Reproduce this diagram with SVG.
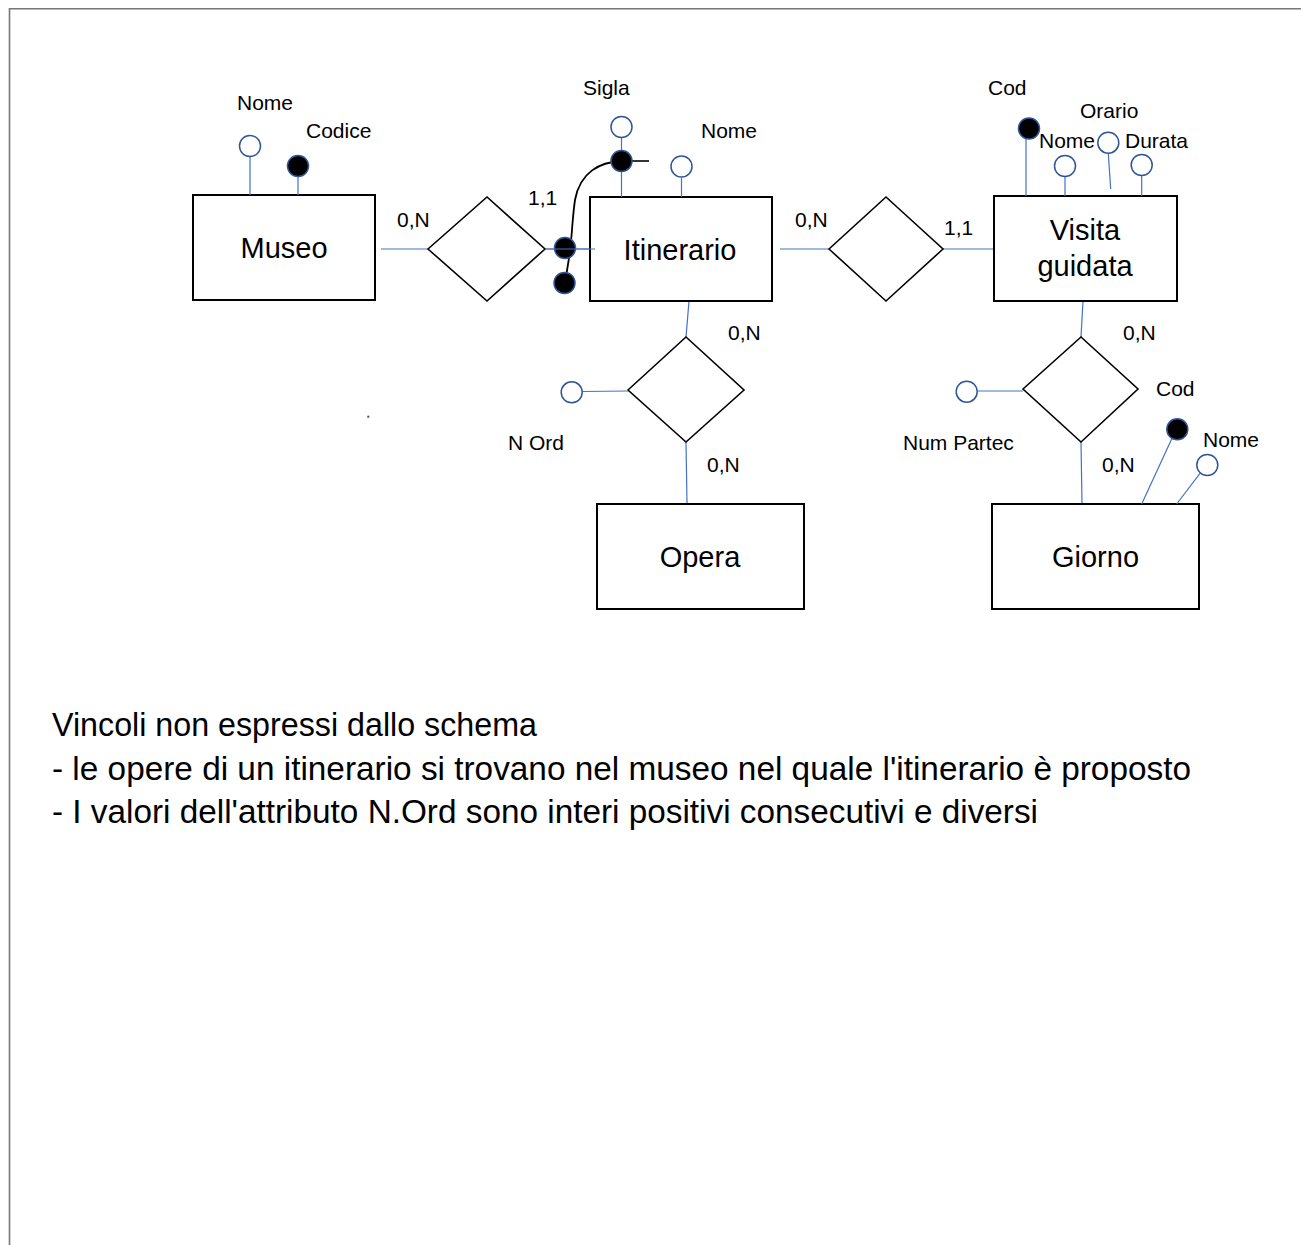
<svg xmlns="http://www.w3.org/2000/svg" width="1301" height="1245" viewBox="0 0 1301 1245">
<style>
.ent{fill:#fff;stroke:#000;stroke-width:2}
.rel{fill:#fff;stroke:#000;stroke-width:1.6}
.conn{stroke:#4472C4;stroke-width:1.2;fill:none}
.att{fill:#fff;stroke:#2F5597;stroke-width:1.5}
.key{fill:#000;stroke:#2F5597;stroke-width:1.5}
.lbl{font-family:"Liberation Sans",Arial,sans-serif;font-size:21px;fill:#000}
.big{font-family:"Liberation Sans",Arial,sans-serif;font-size:29px;fill:#000;text-anchor:middle}
.note{font-family:"Liberation Sans",Arial,sans-serif;font-size:32.5px;fill:#000}
</style>
<rect x="0" y="0" width="1301" height="1245" fill="#fff"/>
<path d="M9.5,1245 V8.7 H1301" fill="none" stroke="#777" stroke-width="1.6"/>
<rect x="367.3" y="415.7" width="2" height="2" fill="#555"/>

<g id="connectors">
  <line class="conn" x1="381" y1="249" x2="428" y2="249"/>
  <line class="conn" x1="545" y1="249" x2="595" y2="249"/>
  <line class="conn" x1="780" y1="249" x2="829" y2="249"/>
  <line class="conn" x1="943" y1="249" x2="994" y2="249"/>
  <line class="conn" x1="689" y1="301" x2="686" y2="337"/>
  <line class="conn" x1="686" y1="442" x2="687" y2="504"/>
  <line class="conn" x1="1083" y1="301" x2="1081" y2="337"/>
  <line class="conn" x1="1081" y1="442" x2="1082" y2="504"/>
</g>

<g id="museo">
  <rect class="ent" x="193" y="195" width="182" height="105"/>
  <text class="big" x="284" y="258">Museo</text>
</g>
<g id="itinerario">
  <rect class="ent" x="590" y="197" width="182" height="104"/>
  <text class="big" x="680" y="260">Itinerario</text>
</g>
<g id="visita-guidata">
  <rect class="ent" x="994" y="196" width="183" height="105"/>
  <text class="big" x="1085" y="240" font-size="28">Visita</text>
  <text class="big" x="1085" y="276" font-size="28">guidata</text>
</g>
<g id="opera">
  <rect class="ent" x="597" y="504" width="207" height="105"/>
  <text class="big" x="700" y="567">Opera</text>
</g>
<g id="giorno">
  <rect class="ent" x="992" y="504" width="207" height="105"/>
  <text class="big" x="1095.5" y="567">Giorno</text>
</g>

<g id="rel-museo-itinerario">
  <polygon class="rel" points="428,249 487,197 545,249 487,301"/>
  <text class="lbl" x="397" y="227">0,N</text>
  <text class="lbl" x="528" y="205">1,1</text>
</g>
<g id="rel-itinerario-visita">
  <polygon class="rel" points="829,249 886,197 943,249 886,301"/>
  <text class="lbl" x="795" y="227">0,N</text>
  <text class="lbl" x="944" y="235">1,1</text>
</g>
<g id="rel-itinerario-opera">
  <polygon class="rel" points="628,390 686,337 744,390 686,442"/>
  <text class="lbl" x="728" y="340">0,N</text>
  <text class="lbl" x="707" y="472">0,N</text>
</g>
<g id="rel-visita-giorno">
  <polygon class="rel" points="1023,389 1081,337 1138,389 1081,442"/>
  <text class="lbl" x="1123" y="340">0,N</text>
  <text class="lbl" x="1102" y="472">0,N</text>
</g>

<g id="attr-museo-nome">
  <line class="conn" x1="250" y1="157" x2="250" y2="195"/>
  <circle class="att" cx="250" cy="146" r="10.5"/>
  <text class="lbl" x="237" y="110">Nome</text>
</g>
<g id="attr-museo-codice">
  <line class="conn" x1="298" y1="176" x2="298" y2="195"/>
  <circle class="key" cx="298" cy="166" r="10.5"/>
  <text class="lbl" x="306" y="138">Codice</text>
</g>
<g id="attr-itinerario-sigla">
  <line class="conn" x1="621.5" y1="138" x2="621.5" y2="197"/>
  <circle class="att" cx="621.5" cy="127" r="10.5"/>
  <text class="lbl" x="583" y="95">Sigla</text>
</g>
<g id="identifier-itinerario">
  <line x1="621.5" y1="161" x2="649" y2="161" stroke="#000" stroke-width="1.6"/>
  <path d="M621.5,161 C600,162 580,172 575,200 C572,220 572,240 569,258 L565,283" fill="none" stroke="#000" stroke-width="1.8"/>
  <circle class="key" cx="621.5" cy="161" r="10.5"/>
  <circle class="key" cx="565" cy="248" r="10.5"/>
  <circle class="key" cx="564.5" cy="283" r="10.5"/>
  <line class="conn" x1="545" y1="249" x2="595" y2="249"/>
</g>
<g id="attr-itinerario-nome">
  <line class="conn" x1="681.5" y1="178" x2="681.5" y2="197"/>
  <circle class="att" cx="681.5" cy="166.5" r="10.5"/>
  <text class="lbl" x="701" y="138">Nome</text>
</g>
<g id="attr-visita-cod">
  <line class="conn" x1="1026" y1="138" x2="1026" y2="196"/>
  <circle class="key" cx="1029" cy="128.5" r="10.5"/>
  <text class="lbl" x="988" y="95">Cod</text>
</g>
<g id="attr-visita-nome">
  <line class="conn" x1="1065" y1="177" x2="1065" y2="196"/>
  <circle class="att" cx="1065" cy="166" r="10.5"/>
  <text class="lbl" x="1039" y="148">Nome</text>
</g>
<g id="attr-visita-orario">
  <line class="conn" x1="1108.3" y1="153.5" x2="1110.7" y2="189"/>
  <circle class="att" cx="1108.3" cy="142.7" r="10.5"/>
  <text class="lbl" x="1080" y="118">Orario</text>
</g>
<g id="attr-visita-durata">
  <line class="conn" x1="1141.7" y1="176" x2="1141.7" y2="196"/>
  <circle class="att" cx="1141.7" cy="165" r="10.5"/>
  <text class="lbl" x="1125" y="148">Durata</text>
</g>
<g id="attr-nord">
  <line class="conn" x1="582" y1="391.5" x2="628" y2="391"/>
  <circle class="att" cx="571.7" cy="392.3" r="10.5"/>
  <text class="lbl" x="508" y="450">N Ord</text>
</g>
<g id="attr-numpartec">
  <line class="conn" x1="977.5" y1="391" x2="1023" y2="391"/>
  <circle class="att" cx="966.7" cy="391.7" r="10.5"/>
  <text class="lbl" x="903" y="450">Num Partec</text>
</g>
<g id="attr-giorno-cod">
  <line class="conn" x1="1172.7" y1="436.7" x2="1141.7" y2="504"/>
  <circle class="key" cx="1177.3" cy="429.3" r="10.5"/>
  <text class="lbl" x="1156" y="396">Cod</text>
</g>
<g id="attr-giorno-nome">
  <line class="conn" x1="1200" y1="473.3" x2="1176.7" y2="504"/>
  <circle class="att" cx="1207.3" cy="465" r="10.5"/>
  <text class="lbl" x="1203" y="447">Nome</text>
</g>

<g id="notes">
  <text class="note" x="52" y="736" textLength="485" lengthAdjust="spacingAndGlyphs">Vincoli non espressi dallo schema</text>
  <text class="note" x="52" y="779.5" textLength="1139" lengthAdjust="spacingAndGlyphs">- le opere di un itinerario si trovano nel museo nel quale l'itinerario è proposto</text>
  <text class="note" x="52" y="823" textLength="986" lengthAdjust="spacingAndGlyphs">- I valori dell'attributo N.Ord sono interi positivi consecutivi e diversi</text>
</g>
</svg>
